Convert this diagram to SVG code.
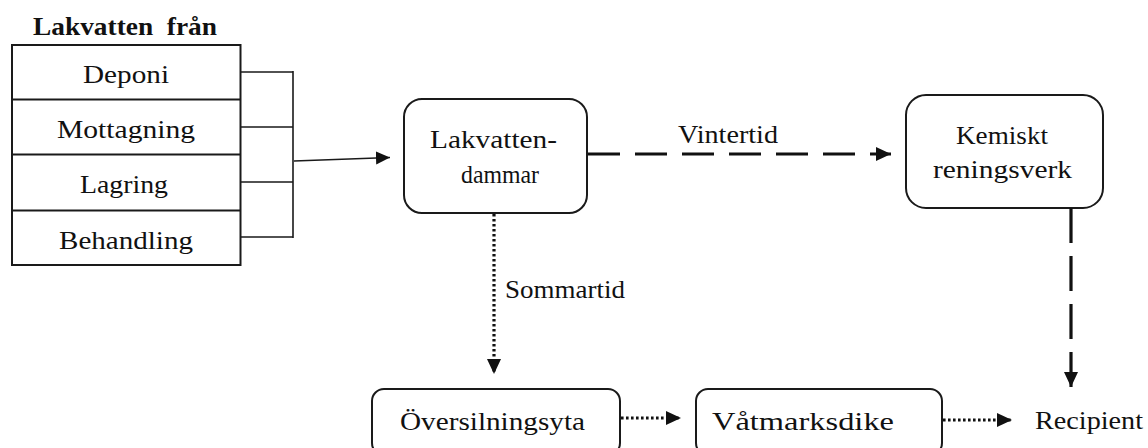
<svg xmlns="http://www.w3.org/2000/svg" width="1148" height="448" viewBox="0 0 1148 448">
<style>
.t{font-size:26px;fill:#111;}
.title{font-weight:bold;white-space:pre;}
.box{fill:#fff;stroke:#1a1a1a;stroke-width:2;}
.thin{fill:none;stroke:#1a1a1a;stroke-width:1.6;}
.dash{fill:none;stroke:#111;stroke-width:3.2;}
.dot{fill:none;stroke:#111;stroke-width:3.2;stroke-dasharray:2.6 2.4;}
</style>
<defs>
<marker id="ah" markerUnits="userSpaceOnUse" markerWidth="16" markerHeight="14" refX="15" refY="7" orient="auto"><path d="M0,0 L15,7 L0,14 Z" fill="#111"/></marker>
<marker id="ahs" markerUnits="userSpaceOnUse" markerWidth="16" markerHeight="14" refX="14" refY="6.5" orient="auto"><path d="M0,0 L14,6.5 L0,13 Z" fill="#111"/></marker>
</defs>
<rect width="1148" height="448" fill="#fff"/>
<g font-family="'Liberation Serif', 'Times New Roman', serif">
<g id="sources">
<text class="t title" x="33" y="35" textLength="184" lengthAdjust="spacingAndGlyphs">Lakvatten  från</text>
<rect x="12" y="45" width="228.5" height="220" fill="#fff" stroke="#1a1a1a" stroke-width="2"/>
<line x1="12" y1="99.5" x2="240.5" y2="99.5" stroke="#1a1a1a" stroke-width="2"/>
<line x1="12" y1="154.5" x2="240.5" y2="154.5" stroke="#1a1a1a" stroke-width="2"/>
<line x1="12" y1="210.5" x2="240.5" y2="210.5" stroke="#1a1a1a" stroke-width="2"/>
<text class="t" x="83" y="83" textLength="86" lengthAdjust="spacingAndGlyphs">Deponi</text>
<text class="t" x="57" y="138" textLength="138" lengthAdjust="spacingAndGlyphs">Mottagning</text>
<text class="t" x="80" y="193" textLength="88" lengthAdjust="spacingAndGlyphs">Lagring</text>
<text class="t" x="59" y="249" textLength="134" lengthAdjust="spacingAndGlyphs">Behandling</text>
</g>
<g id="lakvattendammar">
<rect class="box" x="404" y="99" width="183" height="114" rx="18"/>
<text class="t" x="430" y="148" textLength="127" lengthAdjust="spacingAndGlyphs">Lakvatten-</text>
<text class="t" x="461" y="183" textLength="78" lengthAdjust="spacingAndGlyphs">dammar</text>
</g>
<g id="kemiskt">
<rect class="box" x="906" y="95" width="197" height="113" rx="20"/>
<text class="t" x="956" y="144" textLength="92" lengthAdjust="spacingAndGlyphs">Kemiskt</text>
<text class="t" x="933" y="178" textLength="139" lengthAdjust="spacingAndGlyphs">reningsverk</text>
</g>
<g id="oversilningsyta">
<rect class="box" x="372" y="389" width="248" height="66" rx="12"/>
<text class="t" x="400" y="430" textLength="185" lengthAdjust="spacingAndGlyphs">Översilningsyta</text>
</g>
<g id="vatmarksdike">
<rect class="box" x="696" y="389" width="246" height="66" rx="12"/>
<text class="t" x="712" y="430" textLength="182" lengthAdjust="spacingAndGlyphs">Våtmarksdike</text>
</g>
<g id="recipient">
<text class="t" x="1035" y="429" textLength="108" lengthAdjust="spacingAndGlyphs">Recipient</text>
</g>
<g id="connectors">
<path class="thin" d="M240.5,72 H293 M240.5,127 H293 M240.5,182 H293 M240.5,237 H293 M293,71 V238"/>
<path class="thin" d="M294,161 L390,157.5" marker-end="url(#ahs)"/>
<path class="dash" d="M588,154 H891" stroke-dasharray="32 15" marker-end="url(#ah)"/>
<text class="t" x="678" y="143" textLength="100" lengthAdjust="spacingAndGlyphs">Vintertid</text>
<path class="dash" d="M1071,208 V387" stroke-dasharray="35 13" marker-end="url(#ah)"/>
<path class="dot" d="M494,214 V374" marker-end="url(#ah)"/>
<text class="t" x="505" y="298" textLength="120" lengthAdjust="spacingAndGlyphs">Sommartid</text>
<path class="dot" d="M621,418 H681" marker-end="url(#ah)"/>
<path class="dot" d="M943,420 H1012" marker-end="url(#ah)"/>
</g>
</g>
</svg>
